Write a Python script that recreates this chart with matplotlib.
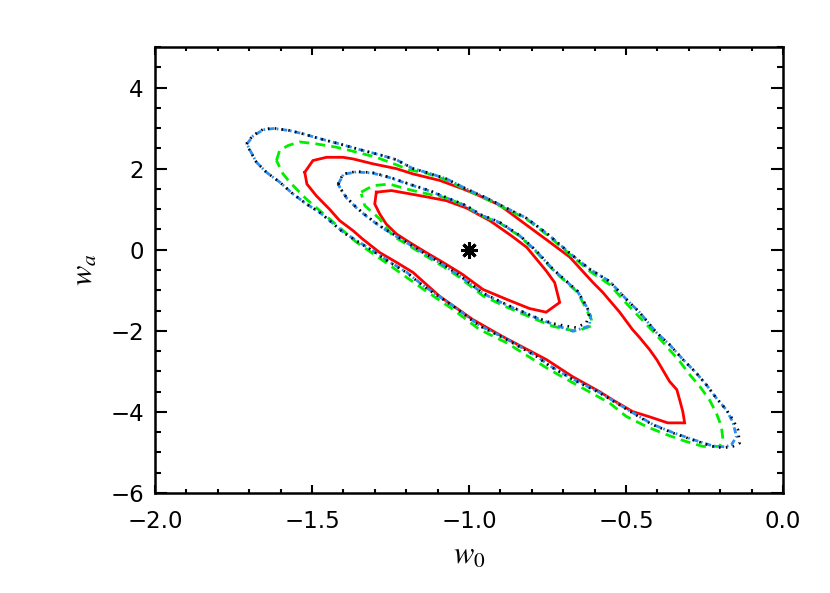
import matplotlib
matplotlib.use('Agg')
import matplotlib.pyplot as plt
from matplotlib.ticker import MultipleLocator, FuncFormatter

plt.rcParams['mathtext.fontset'] = 'stix'

# contour vertices (w0, wa)
red_outer_x = [-1.523, -1.497, -1.454, -1.401, -1.369, -1.306, -1.231, -1.178, -1.093, -1.019,
               -0.966, -0.902, -0.829, -0.743, -0.679, -0.606, -0.574, -0.520, -0.479, -0.457,
               -0.425, -0.402, -0.383, -0.361, -0.338, -0.329, -0.319, -0.313, -0.367, -0.425,
               -0.479, -0.543, -0.584, -0.670, -0.753, -0.785, -0.893, -0.988, -1.093, -1.125,
               -1.178, -1.231, -1.284, -1.338, -1.369, -1.412, -1.444, -1.486, -1.516, -1.523]
red_outer_y = [1.91, 2.20, 2.28, 2.28, 2.24, 2.12, 2.00, 1.87, 1.71, 1.50,
               1.33, 1.10, 0.68, 0.19, -0.18, -0.80, -1.05, -1.54, -1.97, -2.16,
               -2.46, -2.71, -2.96, -3.25, -3.45, -3.70, -3.99, -4.27, -4.27, -4.12,
               -3.99, -3.70, -3.50, -3.13, -2.71, -2.58, -2.14, -1.72, -1.15, -0.93,
               -0.56, -0.31, -0.07, 0.26, 0.47, 0.72, 1.00, 1.33, 1.62, 1.91]

red_inner_x = [-1.295, -1.247, -1.189, -1.125, -1.072, -1.008, -0.932, -0.864, -0.816, -0.785,
               -0.754, -0.727, -0.711, -0.754, -0.807, -0.881, -0.955, -1.022, -1.083, -1.136,
               -1.189, -1.231, -1.263, -1.284, -1.300, -1.295]
red_inner_y = [1.42, 1.46, 1.38, 1.29, 1.21, 1.03, 0.71, 0.34, 0.06, -0.23,
               -0.52, -0.81, -1.30, -1.54, -1.45, -1.22, -0.98, -0.60, -0.31, -0.07,
               0.18, 0.39, 0.63, 0.88, 1.13, 1.42]

black_outer_x = [-1.709, -1.688, -1.656, -1.624, -1.571, -1.529, -1.475, -1.412, -1.338, -1.274,
                 -1.231, -1.178, -1.136, -1.072, -1.008, -0.945, -0.817, -0.750, -0.672, -0.615,
                 -0.552, -0.499, -0.456, -0.403, -0.361, -0.318, -0.276, -0.244, -0.212, -0.180,
                 -0.159, -0.143, -0.138, -0.159, -0.191, -0.223, -0.287, -0.350, -0.414, -0.478,
                 -0.584, -0.669, -0.743, -0.785, -0.881, -0.966, -1.051, -1.146, -1.199, -1.253,
                 -1.306, -1.359, -1.401, -1.444, -1.475, -1.518, -1.561, -1.603, -1.645, -1.677,
                 -1.698, -1.709]
black_outer_y = [2.61, 2.82, 2.97, 3.00, 2.94, 2.86, 2.74, 2.61, 2.45, 2.32,
                 2.22, 2.00, 1.91, 1.75, 1.50, 1.28, 0.78, 0.39, -0.13, -0.48,
                 -0.78, -1.22, -1.55, -2.04, -2.34, -2.71, -3.04, -3.33, -3.66, -3.95,
                 -4.19, -4.44, -4.77, -4.85, -4.89, -4.85, -4.69, -4.52, -4.32, -4.03,
                 -3.53, -3.20, -2.87, -2.63, -2.21, -1.88, -1.39, -0.89, -0.56, -0.31,
                 -0.03, 0.22, 0.43, 0.72, 0.92, 1.13, 1.38, 1.67, 1.91, 2.16,
                 2.45, 2.61]

blue_outer_x = [-1.707, -1.687, -1.655, -1.622, -1.571, -1.529, -1.475, -1.412, -1.338, -1.274,
                -1.231, -1.178, -1.136, -1.072, -1.008, -0.945, -0.817, -0.750, -0.672, -0.615,
                -0.552, -0.499, -0.456, -0.403, -0.361, -0.318, -0.276, -0.244, -0.212, -0.180,
                -0.159, -0.148, -0.164, -0.185, -0.223, -0.287, -0.350, -0.414, -0.478,
                -0.584, -0.669, -0.743, -0.785, -0.881, -0.966, -1.051, -1.146, -1.199, -1.253,
                -1.306, -1.359, -1.401, -1.444, -1.475, -1.518, -1.561, -1.603, -1.645, -1.677,
                -1.697, -1.707]
blue_outer_y = [2.61, 2.81, 2.96, 2.99, 2.94, 2.86, 2.74, 2.61, 2.45, 2.32,
                2.22, 2.00, 1.91, 1.75, 1.50, 1.28, 0.78, 0.39, -0.13, -0.48,
                -0.78, -1.22, -1.55, -2.04, -2.34, -2.71, -3.04, -3.33, -3.66, -3.95,
                -4.26, -4.61, -4.81, -4.86, -4.84, -4.68, -4.51, -4.31, -4.02,
                -3.52, -3.19, -2.86, -2.62, -2.20, -1.87, -1.38, -0.88, -0.55, -0.30,
                -0.02, 0.23, 0.44, 0.72, 0.92, 1.13, 1.38, 1.67, 1.91, 2.16,
                2.45, 2.61]

green_outer_x = [-1.613, -1.603, -1.576, -1.539, -1.486, -1.422, -1.359, -1.295, -1.253, -1.189,
                 -1.136, -1.072, -1.008, -0.945, -0.817, -0.750, -0.672, -0.615, -0.552, -0.499,
                 -0.456, -0.414, -0.371, -0.329, -0.297, -0.265, -0.234, -0.212, -0.196, -0.191,
                 -0.202, -0.255, -0.308, -0.371, -0.435, -0.499, -0.552, -0.669, -0.743, -0.881,
                 -0.966, -1.051, -1.146, -1.253, -1.359, -1.444, -1.518, -1.571, -1.592, -1.613]
green_outer_y = [2.20, 2.45, 2.57, 2.66, 2.61, 2.53, 2.41, 2.28, 2.16, 1.97,
                 1.89, 1.72, 1.48, 1.25, 0.76, 0.36, -0.16, -0.53, -0.86, -1.32,
                 -1.67, -2.01, -2.38, -2.75, -3.08, -3.37, -3.70, -4.03, -4.36, -4.69,
                 -4.85, -4.85, -4.73, -4.56, -4.36, -4.11, -3.78, -3.28, -2.96, -2.29,
                 -1.97, -1.47, -0.97, -0.38, 0.19, 0.76, 1.25, 1.67, 1.87, 2.20]

black_inner_x = [-1.417, -1.401, -1.359, -1.306, -1.253, -1.189, -1.125, -1.072, -1.008, -0.966,
                 -0.902, -0.839, -0.785, -0.732, -0.690, -0.654, -0.626, -0.616, -0.626, -0.658,
                 -0.690, -0.732, -0.796, -0.881, -0.955, -1.030, -1.083, -1.136, -1.189, -1.242,
                 -1.284, -1.327, -1.359, -1.390, -1.412, -1.417]
black_inner_y = [1.62, 1.87, 1.93, 1.90, 1.79, 1.62, 1.46, 1.29, 1.09, 0.88,
                 0.68, 0.36, -0.03, -0.48, -0.77, -1.02, -1.39, -1.55, -1.80, -1.92,
                 -1.88, -1.82, -1.64, -1.35, -1.07, -0.63, -0.36, -0.11, 0.14, 0.39,
                 0.59, 0.84, 1.05, 1.29, 1.54, 1.62]

blue_inner_x = [-1.416, -1.400, -1.359, -1.306, -1.253, -1.189, -1.125, -1.072, -1.008, -0.966,
                -0.902, -0.839, -0.785, -0.732, -0.690, -0.654, -0.626, -0.612, -0.617, -0.669,
                -0.732, -0.796, -0.881, -0.955, -1.030, -1.083, -1.136, -1.189, -1.242,
                -1.284, -1.327, -1.359, -1.390, -1.411, -1.416]
blue_inner_y = [1.62, 1.86, 1.92, 1.89, 1.78, 1.61, 1.45, 1.28, 1.08, 0.87,
                0.67, 0.35, -0.04, -0.49, -0.78, -1.03, -1.40, -1.64, -1.88, -2.01,
                -1.84, -1.65, -1.36, -1.08, -0.64, -0.37, -0.12, 0.13, 0.38,
                0.58, 0.83, 1.04, 1.28, 1.53, 1.62]

green_inner_x = [-1.343, -1.306, -1.253, -1.199, -1.157, -1.072, -1.008, -0.966, -0.902, -0.839,
                 -0.785, -0.732, -0.690, -0.654, -0.626, -0.610, -0.610, -0.658, -0.732, -0.796,
                 -0.881, -0.955, -1.030, -1.083, -1.136, -1.189, -1.242, -1.268, -1.284, -1.332,
                 -1.343]
green_inner_y = [1.42, 1.58, 1.62, 1.50, 1.42, 1.28, 1.07, 0.86, 0.66, 0.34,
                 -0.06, -0.50, -0.80, -1.05, -1.47, -1.72, -1.88, -2.01, -1.89, -1.69,
                 -1.41, -1.14, -0.68, -0.41, -0.16, 0.09, 0.34, 0.59, 0.76, 1.09,
                 1.38]

fiducial_w0 = [-1.0]
fiducial_wa = [0.0]


def minus_fmt(fmt):
    return FuncFormatter(lambda v, pos: (fmt % v).replace('-', '\u2212'))


fig = plt.figure(figsize=(8.3, 5.93), dpi=100)
ax = fig.add_axes([0.1867, 0.1686, 0.7566, 0.7521])

red_kw = dict(color='#ff0000', lw=2.0, solid_joinstyle='miter')
green_kw = dict(color='#00ee00', lw=2.0, ls=(0, (3.6, 2.2)))
blue_kw = dict(color='#2a8ff0', lw=2.0, ls=(0, (2.2, 1.0, 0.6, 1.0)))
black_kw = dict(color='black', lw=1.9, ls=(0, (0.6, 2.0)))

ax.plot(red_outer_x, red_outer_y, **red_kw)
ax.plot(red_inner_x, red_inner_y, **red_kw)
ax.plot(green_outer_x, green_outer_y, **green_kw)
ax.plot(green_inner_x, green_inner_y, **green_kw)
ax.plot(blue_outer_x, blue_outer_y, **blue_kw)
ax.plot(blue_inner_x, blue_inner_y, **blue_kw)
ax.plot(black_outer_x, black_outer_y, **black_kw)
ax.plot(black_inner_x, black_inner_y, **black_kw)

ax.plot(fiducial_w0, fiducial_wa, ls='none', marker=(8, 2, 0), ms=12, mew=2.2, color='black')

ax.set_xlim(-2.0, 0.0)
ax.set_ylim(-6, 5)

ax.xaxis.set_major_locator(MultipleLocator(0.5))
ax.xaxis.set_minor_locator(MultipleLocator(0.1))
ax.yaxis.set_major_locator(MultipleLocator(2))
ax.yaxis.set_minor_locator(MultipleLocator(0.5))
ax.xaxis.set_major_formatter(minus_fmt('%.1f'))
ax.yaxis.set_major_formatter(minus_fmt('%d'))

ax.tick_params(axis='both', which='both', direction='in', top=True, right=True, width=1.5,
               labelsize=16.5, labelfontfamily='DejaVu Sans')
ax.tick_params(axis='x', which='major', length=6, pad=12)
ax.tick_params(axis='x', which='minor', length=3)
ax.tick_params(axis='y', which='major', length=8.5, pad=8)
ax.tick_params(axis='y', which='minor', length=4.3)
for s in ax.spines.values():
    s.set_linewidth(1.8)

ax.set_xlabel(r'$\boldsymbol{w_0}$', fontsize=22, labelpad=6)
ax.set_ylabel(r'$\boldsymbol{w_a}$', fontsize=22, labelpad=8)

fig.savefig('out.png', dpi=100)
